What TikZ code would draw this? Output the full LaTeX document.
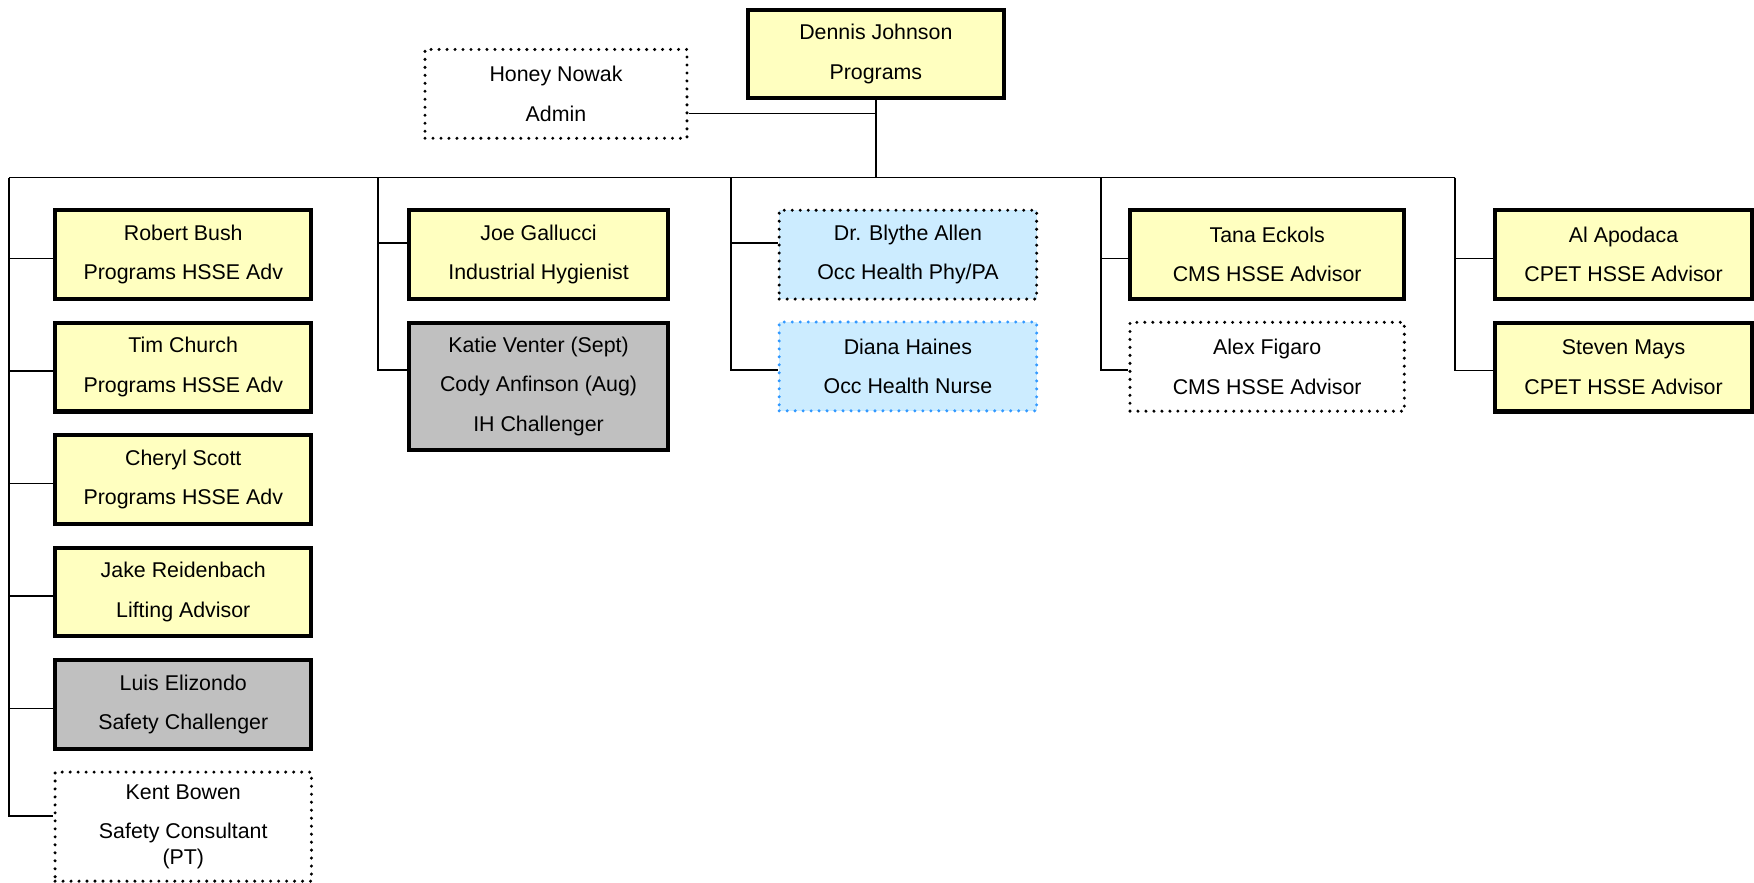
\documentclass[tikz,border=0pt]{standalone}
\usepackage{fontspec}
\setmainfont{Liberation Sans}
\usetikzlibrary{positioning}
\definecolor{boxyellow}{RGB}{255,255,192}
\definecolor{boxblue}{RGB}{204,236,255}
\definecolor{boxgray}{RGB}{192,192,192}
\definecolor{dotblue}{RGB}{51,153,255}
\tikzset{
  person/.style={draw, minimum width=114pt, minimum height=39.5pt, inner sep=0pt,
    align=center, font=\fontsize{9.5}{17.5}\selectfont},
  staff/.style={person, line width=1.8pt, fill=boxyellow},
  trainee/.style={person, line width=1.8pt, fill=boxgray},
  contract/.style={person, line width=1.5pt, dash pattern=on 0pt off 3.55pt, line cap=round},
  link/.style={line width=0.7pt}
}
\begin{document}
\begin{tikzpicture}[x=0.5pt, y=-0.5pt, node distance=8.7pt]
    \useasboundingbox (0,0) rectangle (1560,785);

    % head and admin
    \node (dennis) [staff] at (779,48) {Dennis Johnson\\Programs};
    \node (honey) [contract, minimum width=116.5pt] at (494.5,83.5) {Honey Nowak\\Admin};

    % column tops on the bus
    \coordinate (c1) at (8,158);
    \coordinate (c2) at (336,158);
    \coordinate (c3) at (650,158);
    \coordinate (c4) at (979,158);
    \coordinate (c5) at (1294,158);

    % column 1
    \node (robert) [staff] at (163,226.5) {Robert Bush\\Programs HSSE Adv};
    \node (tim) [staff, below=of robert] {Tim Church\\Programs HSSE Adv};
    \node (cheryl) [staff, below=of tim] {Cheryl Scott\\Programs HSSE Adv};
    \node (jake) [staff, below=of cheryl] {Jake Reidenbach\\Lifting Advisor};
    \node (luis) [trainee, below=of jake] {Luis Elizondo\\Safety Challenger};
    \node (kent) [contract, minimum height=48.5pt, below=of luis] {Kent Bowen\\Safety Consultant\\[-6pt](PT)};

    % column 2
    \node (joe) [staff, minimum width=115pt] at (479,226.5) {Joe Gallucci\\Industrial Hygienist};
    \node (katie) [trainee, minimum width=115pt, minimum height=56.5pt, below=of joe] {Katie Venter (Sept)\\Cody Anfinson (Aug)\\IH Challenger};

    % column 3
    \node (blythe) [contract, fill=boxblue, minimum width=114.5pt] at (807.5,226.5) {Dr. Blythe Allen\\Occ Health Phy/PA};
    \node (diana) [contract, draw=dotblue, fill=boxblue, minimum width=114.5pt, below=of blythe] {Diana Haines\\Occ Health Nurse};

    % column 4
    \node (tana) [staff, minimum width=122pt] at (1127,226.5) {Tana Eckols\\CMS HSSE Advisor};
    \node (alex) [contract, minimum width=122pt, below=of tana] {Alex Figaro\\CMS HSSE Advisor};

    % column 5
    \node (al) [staff] at (1444,226.5) {Al Apodaca\\CPET HSSE Advisor};
    \node (steven) [staff, below=of al] {Steven Mays\\CPET HSSE Advisor};

    % lines
    \coordinate (hn) at ([yshift=-8.75pt]honey.east);
    \draw[link] (hn) -- ([xshift=0.5pt]hn -| dennis.south);
    \draw[link] (dennis) -- (dennis |- c1);
    \draw[link] (c1) -- (c5);
    \foreach \n in {robert,tim,cheryl,jake,luis}
      \draw[link] (c1) |- ([yshift=-1.75pt]\n.west);
    \draw[link] (c1) |- ([yshift=4.75pt]kent.west);
    \draw[link] (c2) |- ([yshift=5.25pt]joe.west);
    \draw[link] (c2) |- ([yshift=7.25pt]katie.west);
    \draw[link] (c3) |- ([yshift=5.25pt]blythe.west);
    \draw[link] (c3) |- ([yshift=-1.5pt]diana.west);
    \draw[link] (c4) |- ([yshift=-1.75pt]tana.west);
    \draw[link] (c4) |- ([yshift=-1.5pt]alex.west);
    \draw[link] (c5) |- ([yshift=-1.75pt]al.west);
    \draw[link] (c5) |- ([yshift=-1.5pt]steven.west);
  \end{tikzpicture}
\end{document}
